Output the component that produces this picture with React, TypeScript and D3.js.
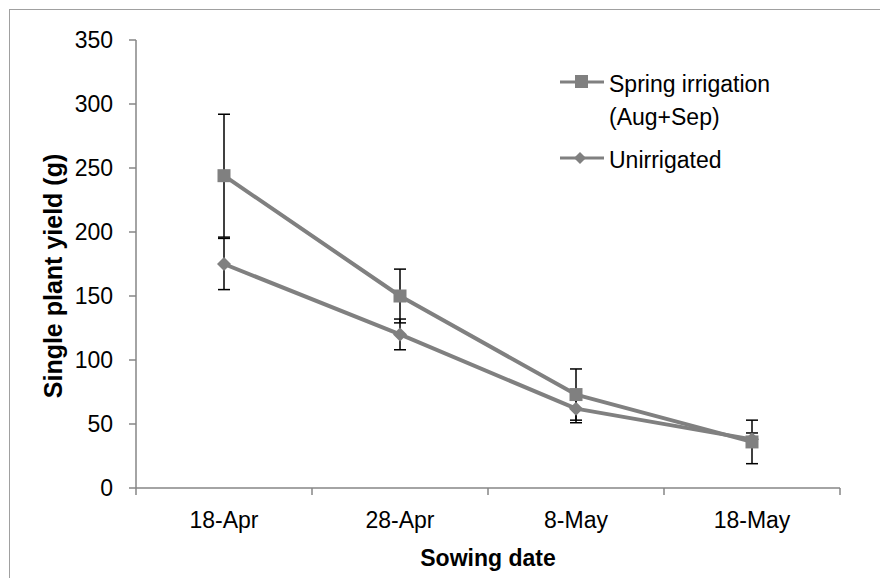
import React from 'react'
import * as d3 from 'd3'

const sowingDates = ['18-Apr', '28-Apr', '8-May', '18-May']
const yTicks = [0, 50, 100, 150, 200, 250, 300, 350]

const springYield = [244, 150, 73, 36]
const springErr = [48, 21, 20, 17]
const unirrYield = [175, 120, 62, 38]
const unirrErr = [20, 12, 11, 5]

const seriesNames = ['Spring irrigation', 'Unirrigated']

const width = 880
const height = 578
const plot = { left: 136, right: 840, top: 40, bottom: 488 }

const font = 'Arial, "Liberation Sans", Helvetica, sans-serif'
const lineColor = '#808080'
const axisColor = '#868686'
const labelSize = 23

function diamond(cx: number, cy: number, r: number) {
  return `M${cx},${cy - r}L${cx + r},${cy}L${cx},${cy + r}L${cx - r},${cy}Z`
}

export default function App() {
  const x = d3.scaleBand().domain(sowingDates).range([plot.left, plot.right])
  const y = d3.scaleLinear().domain([0, 350]).range([plot.bottom, plot.top])
  const cx = (d: string) => (x(d) as number) + x.bandwidth() / 2

  const line = d3
    .line<number>()
    .x((_, i) => cx(sowingDates[i]))
    .y((v) => y(v))

  const errorBars = (vals: number[], errs: number[], key: string) =>
    vals.map((v, i) => {
      const px = cx(sowingDates[i])
      return (
        <g key={key + i} stroke="#000" strokeWidth={1.5}>
          <line x1={px} x2={px} y1={y(v + errs[i])} y2={y(v - errs[i])} />
          <line x1={px - 6} x2={px + 6} y1={y(v + errs[i])} y2={y(v + errs[i])} />
          <line x1={px - 6} x2={px + 6} y1={y(v - errs[i])} y2={y(v - errs[i])} />
        </g>
      )
    })

  return (
    <svg width={width} height={height} style={{ position: 'absolute', left: 0, top: 0 }}>
      <rect x={0} y={0} width={width} height={height} fill="#fff" />
      <rect x={9.5} y={9.5} width={width} height={height} fill="none" stroke="#a0a0a0" strokeWidth={1} />

      {/* y axis */}
      <line x1={plot.left} x2={plot.left} y1={plot.top} y2={plot.bottom} stroke={axisColor} strokeWidth={1.5} />
      {yTicks.map((t) => (
        <g key={'yt' + t}>
          <line x1={plot.left - 7} x2={plot.left} y1={y(t)} y2={y(t)} stroke={axisColor} strokeWidth={1.5} />
          <text x={plot.left - 23} y={y(t)} dy="0.35em" textAnchor="end" fontFamily={font} fontSize={labelSize} fill="#000">
            {t}
          </text>
        </g>
      ))}

      {/* x axis */}
      <line x1={plot.left} x2={plot.right} y1={plot.bottom} y2={plot.bottom} stroke={axisColor} strokeWidth={1.5} />
      {[...sowingDates.map((d) => x(d) as number), plot.right].map((p, i) => (
        <line key={'xt' + i} x1={p} x2={p} y1={plot.bottom} y2={plot.bottom + 7} stroke={axisColor} strokeWidth={1.5} />
      ))}
      {sowingDates.map((d) => (
        <text key={'xl' + d} x={cx(d)} y={528} textAnchor="middle" fontFamily={font} fontSize={labelSize} fill="#000">
          {d}
        </text>
      ))}

      <text x={(plot.left + plot.right) / 2} y={566} textAnchor="middle" fontFamily={font} fontSize={23} fontWeight="bold" fill="#000">
        Sowing date
      </text>
      <text
        transform={`translate(62,${(plot.top + plot.bottom) / 2 + 12}) rotate(-90)`}
        textAnchor="middle"
        fontFamily={font}
        fontSize={25}
        fontWeight="bold"
        fill="#000"
      >
        Single plant yield (g)
      </text>

      {/* error bars */}
      {errorBars(springYield, springErr, 'se')}
      {errorBars(unirrYield, unirrErr, 'ue')}

      {/* lines */}
      <path d={line(unirrYield) as string} fill="none" stroke={lineColor} strokeWidth={4} strokeLinejoin="round" />
      <path d={line(springYield) as string} fill="none" stroke={lineColor} strokeWidth={4} strokeLinejoin="round" />

      {unirrYield.map((v, i) => (
        <path key={'um' + i} d={diamond(cx(sowingDates[i]), y(v), 7)} fill={lineColor} />
      ))}
      {springYield.map((v, i) => (
        <rect key={'sm' + i} x={cx(sowingDates[i]) - 6.5} y={y(v) - 6.5} width={13} height={13} fill={lineColor} />
      ))}

      {/* legend */}
      <g>
        <line x1={560} x2={604} y1={82} y2={82} stroke={lineColor} strokeWidth={3} />
        <rect x={575} y={75} width={13} height={13} fill={lineColor} />
        <text x={609} y={84} dy="0.35em" fontFamily={font} fontSize={labelSize} fill="#000">
          {seriesNames[0]}
        </text>
        <text x={609} y={117} dy="0.35em" fontFamily={font} fontSize={labelSize} fill="#000">
          (Aug+Sep)
        </text>
        <line x1={560} x2={604} y1={158} y2={158} stroke={lineColor} strokeWidth={3} />
        <path d={diamond(580, 158, 6)} fill={lineColor} />
        <text x={609} y={160} dy="0.35em" fontFamily={font} fontSize={labelSize} fill="#000">
          {seriesNames[1]}
        </text>
      </g>
    </svg>
  )
}
